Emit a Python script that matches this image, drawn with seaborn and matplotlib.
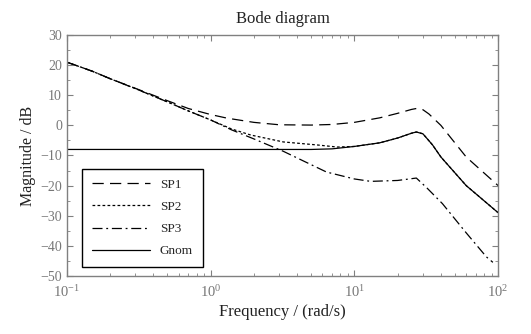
import numpy as np
import pandas as pd
import matplotlib
matplotlib.use("Agg")
import matplotlib.pyplot as plt
import seaborn as sns
from matplotlib.ticker import LogLocator, MultipleLocator, NullFormatter

# Data (frequency in rad/s, magnitude in dB)
sp1_w = [0.1, 0.15, 0.2, 0.3, 0.5, 0.7, 1.0, 1.3, 2.0, 3.0, 5.0, 7.0, 10, 15, 20, 25, 27, 30, 33, 40, 60, 100]
sp1_db = [21, 18, 15.5, 12.3, 8.2, 5.6, 3.6, 2.4, 1.0, 0.2, 0.1, 0.3, 1.0, 2.5, 4.0, 5.3, 5.6, 5.2, 3.8, 0.0, -10.5, -20]

sp2_w = [0.1, 0.15, 0.2, 0.3, 0.5, 0.7, 1.0, 1.4, 1.9, 3.2, 5.5, 7.6, 10, 15, 20, 25, 27, 30, 35, 40, 60, 100]
sp2_db = [21, 18, 15.5, 12.2, 7.8, 4.8, 1.8, -1.2, -3.2, -5.5, -6.5, -7.2, -7.0, -5.8, -4.2, -2.6, -2.2, -2.8, -6.5, -10.5, -20, -29]

sp3_w = [0.1, 0.15, 0.2, 0.3, 0.5, 0.7, 1.0, 1.4, 2.0, 3.2, 4.5, 6.4, 10, 13, 20, 27, 32, 41, 60, 83, 92]
sp3_db = [21, 18, 15.5, 12.2, 7.8, 4.8, 1.8, -1.5, -4.5, -8.6, -12, -15.5, -17.8, -18.6, -18.3, -17.5, -20.8, -26, -35.7, -43.7, -45.5]

gnom_w = [0.1, 1.0, 3.0, 5.0, 7.0, 10, 15, 20, 25, 27, 30, 35, 40, 60, 100]
gnom_db = [-8, -8, -8, -8, -7.8, -7.0, -5.8, -4.2, -2.6, -2.2, -2.8, -6.5, -10.5, -20, -29]

labels = ["SP1", "SP2", "SP3", "Gnom"]
xticks = [0.1, 1, 10, 100]
xtick_labels = [r"$\mathregular{10^{-1}}$", r"$\mathregular{10^{0}}$", r"$\mathregular{10^{1}}$", r"$\mathregular{10^{2}}$"]
yticks = [-50, -40, -30, -20, -10, 0, 10, 20, 30]

sns.set_style("ticks")
plt.rcParams['font.family'] = ['Liberation Serif', 'DejaVu Serif']
plt.rcParams['mathtext.fontset'] = 'custom'
plt.rcParams['mathtext.rm'] = 'Liberation Serif'
plt.rcParams['mathtext.it'] = 'Liberation Serif:italic'
plt.rcParams['mathtext.bf'] = 'Liberation Serif:bold'

frames = []
for lab, w, db in zip(labels, [sp1_w, sp2_w, sp3_w, gnom_w], [sp1_db, sp2_db, sp3_db, gnom_db]):
    frames.append(pd.DataFrame({"w": w, "db": db, "series": lab}))
df = pd.concat(frames, ignore_index=True)

fig = plt.figure(figsize=(5.31, 3.34), dpi=100)
ax = fig.add_axes([0.126, 0.174, 0.812, 0.721])

styles = {"SP1": (0, (9, 5)), "SP2": (0, (2.2, 1.8)), "SP3": (0, (8, 3, 1.5, 3)), "Gnom": "-"}
for lab in labels:
    sns.lineplot(data=df[df.series == lab], x="w", y="db", ax=ax, color="black",
                 linewidth=0.9, linestyle=styles[lab], label=lab, sort=False)

ax.set_xscale("log")
ax.set_xlim(0.1, 100)
ax.set_ylim(-50, 30)
ax.set_xticks(xticks)
ax.set_xticklabels(xtick_labels)
ax.xaxis.set_minor_locator(LogLocator(base=10, subs=np.arange(2, 10)))
ax.xaxis.set_minor_formatter(NullFormatter())
ax.set_yticks(yticks)
ax.yaxis.set_minor_locator(MultipleLocator(5))

gray = "#808080"
for s in ax.spines.values():
    s.set_color(gray)
    s.set_linewidth(1.0)
ax.tick_params(which="both", direction="in", top=True, right=True, colors=gray,
               labelcolor="#777777", labelsize=10)
ax.tick_params(which="major", length=4)
ax.tick_params(which="minor", length=2)
ax.tick_params(axis="x", which="major", pad=6, labelsize=10.5)

ax.set_xlabel("Frequency / (rad/s)", fontsize=12, color="#222222", labelpad=3)
ax.set_ylabel("Magnitude / dB", fontsize=11.5, color="#222222", labelpad=3)
ax.set_title("Bode diagram", fontsize=12, color="#222222", pad=9)

leg = ax.legend(loc="lower left", bbox_to_anchor=(0.03, 0.025), frameon=True, fancybox=False,
                edgecolor="black", fontsize=9.5, handlelength=4.4, borderpad=0.75,
                labelspacing=0.75, handletextpad=0.7, borderaxespad=0.2)
leg.get_frame().set_linewidth(1.0)
leg.get_frame().set_alpha(1)

fig.savefig("out.png", dpi=100)
